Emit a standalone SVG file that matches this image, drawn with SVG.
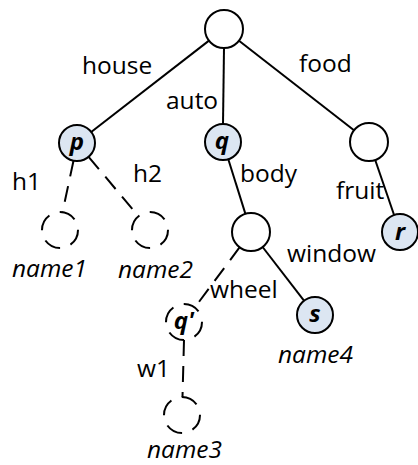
<svg xmlns="http://www.w3.org/2000/svg" width="418" height="465" viewBox="0 0 418 465">
  <style>
    .edge { stroke: #000; stroke-width: 2; fill: none; stroke-linecap: butt; }
    .dash { stroke-dasharray: 16 10; }
    .node { stroke: #000; stroke-width: 2; fill: #fff; }
    .var { fill: #dce6f2; }
    .open { stroke-dasharray: 17 11; fill: none; }
    .lbl { font-family: "Open Sans", "Noto Sans", sans-serif; font-size: 24.5px; fill: #000; }
    .name { font-family: "Open Sans", "Noto Sans", sans-serif; font-size: 24.5px; font-style: italic; fill: #000; }
    .sym { font-family: "Open Sans", "Noto Sans", sans-serif; font-size: 24px; font-style: italic; font-weight: bold; fill: #000; text-anchor: middle; }
  </style>

  <!-- connectors -->
  <g id="edges">
    <line class="edge" x1="209" y1="40.6" x2="91.2" y2="132"/>
    <line class="edge" x1="224" y1="48" x2="223" y2="124"/>
    <line class="edge" x1="239" y1="40.7" x2="354" y2="130.3"/>
    <line class="edge" x1="228.3" y1="159.2" x2="245.4" y2="213.9"/>
    <line class="edge" x1="375.2" y1="160" x2="394.1" y2="215"/>
    <line class="edge" x1="262.6" y1="247" x2="304" y2="300.7"/>
    <line class="edge dash" x1="73.5" y1="160.7" x2="62.5" y2="212.3"/>
    <line class="edge dash" x1="88.6" y1="156.8" x2="138.4" y2="216.2"/>
    <line class="edge dash" x1="239.7" y1="247.2" x2="194.7" y2="307.6"/>
    <line class="edge dash" x1="184" y1="340" x2="182.5" y2="397"/>
  </g>

  <!-- edge labels -->
  <g id="labels">
    <text class="lbl" x="82" y="74">house</text>
    <text class="lbl" x="166" y="109">auto</text>
    <text class="lbl" x="299" y="72">food</text>
    <text class="lbl" x="12" y="190">h1</text>
    <text class="lbl" x="133" y="182">h2</text>
    <text class="lbl" x="240" y="182">body</text>
    <text class="lbl" x="336" y="199">fruit</text>
    <text class="lbl" x="287" y="262">window</text>
    <text class="lbl" x="210" y="298">wheel</text>
    <text class="lbl" x="137" y="377">w1</text>
  </g>

  <!-- nodes -->
  <g id="root"><circle class="node" cx="224" cy="29" r="19"/></g>
  <g id="node-p"><circle class="node var" cx="77" cy="143" r="18"/><text class="sym" x="77" y="150">p</text></g>
  <g id="node-q"><circle class="node var" cx="223" cy="142" r="18"/><text class="sym" x="222" y="149">q</text></g>
  <g id="node-food"><circle class="node" cx="369" cy="142" r="19"/></g>
  <g id="node-r"><circle class="node var" cx="400" cy="232" r="18"/><text class="sym" x="400" y="240">r</text></g>
  <g id="node-body"><circle class="node" cx="251" cy="232" r="19"/></g>
  <g id="node-s"><circle class="node var" cx="315" cy="315" r="18"/><text class="sym" x="315" y="322">s</text></g>
  <g id="node-qq"><circle class="node open" cx="184" cy="322" r="18"/><text class="sym" x="184" y="329">q'</text></g>
  <g id="node-name1"><circle class="node open" cx="60" cy="230" r="18"/><text class="name" x="12" y="277">name1</text></g>
  <g id="node-name2"><circle class="node open" cx="150" cy="230" r="18"/><text class="name" x="118" y="278">name2</text></g>
  <g id="node-name3"><circle class="node open" cx="182" cy="415" r="18"/><text class="name" x="147" y="458">name3</text></g>
  <text id="name4" class="name" x="278" y="363">name4</text>
</svg>
